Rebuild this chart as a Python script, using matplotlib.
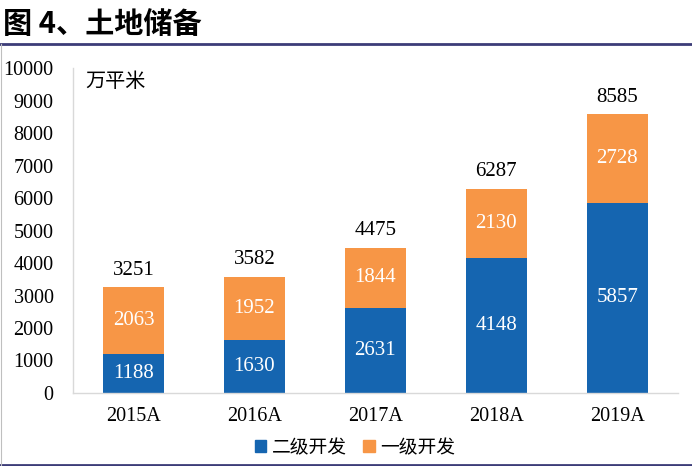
import matplotlib.pyplot as plt
from matplotlib.patches import Patch
from matplotlib.lines import Line2D

plt.rcParams['font.family'] = ['Liberation Serif', 'Noto Sans CJK SC']

years = ['2015A', '2016A', '2017A', '2018A', '2019A']
secondary = [1188, 1630, 2631, 4148, 5857]   # 二级开发
primary = [2063, 1952, 1844, 2130, 2728]     # 一级开发
totals = [3251, 3582, 4475, 6287, 8585]

blue = '#1565b0'
orange = '#f79646'

fig = plt.figure(figsize=(6.92, 4.66), dpi=100)
ax = fig.add_axes([0.1055, 0.1567, 0.874, 0.697])

x = range(len(years))
ax.bar(x, secondary, width=0.5, color=blue)
ax.bar(x, primary, width=0.5, bottom=secondary, color=orange)

for i in x:
    ax.text(i, secondary[i] / 2, str(secondary[i]), ha='center', va='center',
            color='white', fontsize=15)
    ax.text(i, secondary[i] + primary[i] / 2, str(primary[i]), ha='center',
            va='center', color='white', fontsize=15)
    ax.text(i, totals[i] + 230, str(totals[i]), ha='center', va='bottom',
            color='black', fontsize=15)

ax.set_ylim(0, 10000)
ax.set_xlim(-0.5, 4.5)
ax.set_yticks(range(0, 10001, 1000))
ax.set_xticks(list(x))
ax.set_xticklabels(years)
ax.tick_params(length=0, labelsize=14.5)
ax.tick_params(axis='y', pad=14)
ax.tick_params(axis='x', pad=10)
for s in ['top', 'right']:
    ax.spines[s].set_visible(False)
for s in ['left', 'bottom']:
    ax.spines[s].set_color('#d9d9d9')
    ax.spines[s].set_linewidth(1)

ax.text(0.02, 0.99, '万平米', transform=ax.transAxes, ha='left', va='top',
        fontsize=14.5, family=['Noto Sans CJK SC'])

handles = [Patch(color=blue, label='二级开发'), Patch(color=orange, label='一级开发')]
fig.legend(handles=handles, loc='center', bbox_to_anchor=(0.513, 0.04), ncol=2,
           frameon=False, handlelength=0.6, handleheight=0.6, handletextpad=0.3,
           columnspacing=0.9, prop={'family': 'Noto Sans CJK SC', 'size': 13.5})

fig.text(0.004, 0.948, '图 4、土地储备', ha='left', va='center', fontsize=21,
         fontweight='bold', family=['Noto Sans CJK SC'])
fig.add_artist(Line2D([0, 1], [0.905, 0.905], transform=fig.transFigure,
                      color='#3c3c78', linewidth=2))
fig.add_artist(Line2D([0, 1], [0.002, 0.002], transform=fig.transFigure,
                      color='#3c3c78', linewidth=2))
fig.add_artist(Line2D([0.001, 0.001], [0.002, 0.905], transform=fig.transFigure,
                      color='#bfbfbf', linewidth=0.8))

fig.savefig('out.png', dpi=100)
